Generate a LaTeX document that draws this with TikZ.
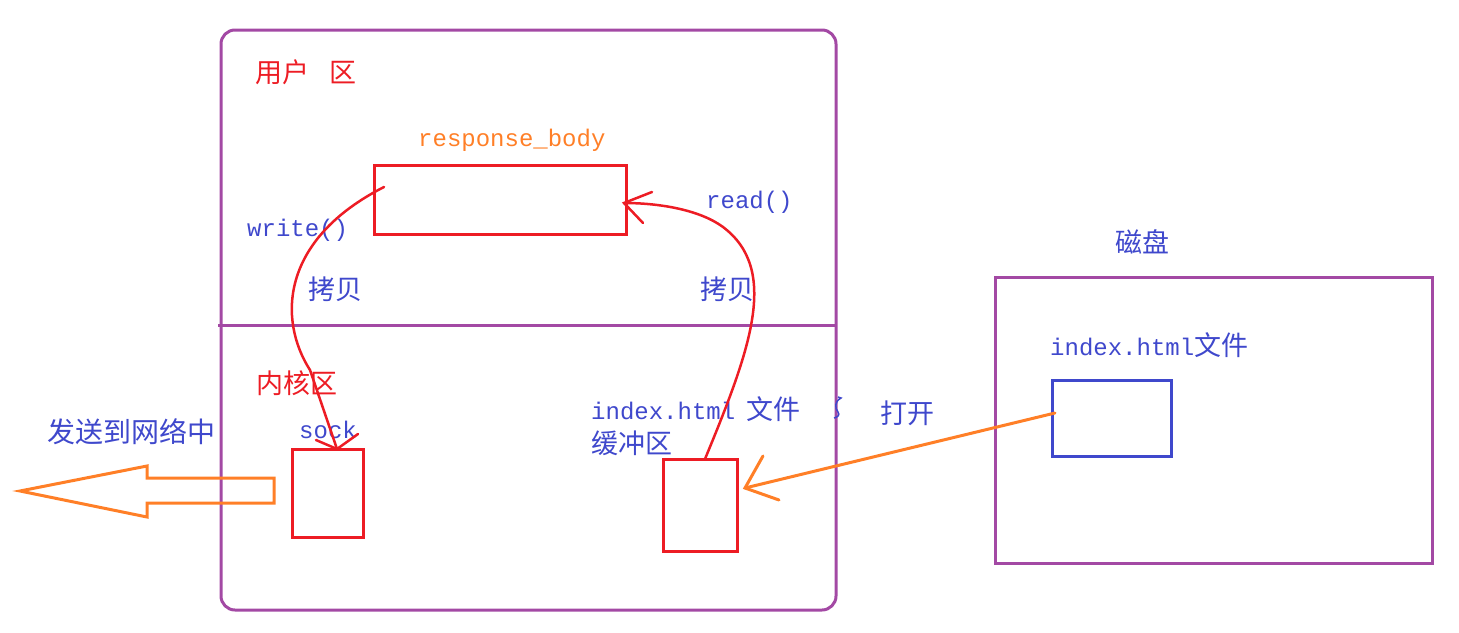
\documentclass[tikz,border=0pt]{standalone}
\usepackage{fontspec}
\setmainfont{Liberation Mono}
\newfontfamily\cjk{Noto Sans CJK SC}
\definecolor{pur}{RGB}{163,73,164}
\definecolor{rd}{RGB}{237,28,36}
\definecolor{org}{RGB}{255,127,39}
\definecolor{blu}{RGB}{63,72,204}
\newcommand{\zhf}{\fontsize{27}{27}\selectfont\cjk}
\begin{document}
\begin{tikzpicture}[x=1pt,y=-1pt,
  box/.style={draw, line width=3pt, inner sep=0pt, outer sep=0pt, anchor=north west},
  mono/.style={font=\fontsize{24}{24}\selectfont, inner sep=0pt, anchor=base west},
  zh/.style={font=\zhf, inner sep=0pt, anchor=base west},
  curve/.style={draw=rd, line width=2.5pt, line cap=round},
  orgline/.style={draw=org, line width=3pt, line cap=round},
]
\useasboundingbox (0,0) rectangle (1459,632);

% main area
\node[box, draw=pur, rounded corners=14pt, minimum width=615pt, minimum height=580pt] (main) at (221,30) {};
\coordinate (divL) at (218,325);
\coordinate (divR) at (836,325);
\draw[pur, line width=3pt] (divL) -- (divR);

% boxes
\node[box, draw=rd, minimum width=252pt, minimum height=69pt] (resp) at (374,165) {};
\node[box, draw=rd, minimum width=71pt, minimum height=88pt] (sock) at (292,449) {};
\node[box, draw=rd, minimum width=74pt, minimum height=92pt] (buf) at (663,459) {};
\node[box, draw=pur, minimum width=437pt, minimum height=286pt] (disk) at (995,277) {};
\node[box, draw=blu, minimum width=119pt, minimum height=76pt] (file) at (1052,380) {};

% texts
\node[zh, text=rd] (userL) at (255,82) {用户\hspace{20pt}区};
\node[mono, text=org] (respL) at (418,146) {response\_body};
\node[mono, text=blu] (writeL) at (247,236) {write()};
\node[mono, text=blu] (readL) at (706,208) {read()};
\node[zh, text=blu] (copyL) at (308,299) {拷贝};
\node[zh, text=blu] (copyR) at (700,299) {拷贝};
\node[zh, text=rd] (kernL) at (256,393) {内核区};
\node[zh, text=blu, font=\fontsize{28}{28}\selectfont\cjk] (sendL) at (47,442) {发送到网络中};
\node[mono, text=blu] (sockL) at (299,438) {sock};
\node[mono, text=blu] (bufL) at (591,419) {index.html\hspace{11pt}{\zhf 文件}};
\node[zh, text=blu] (bufL2) at (591,453) {缓冲区};
\node[zh, text=blu] (openL) at (880,423) {打开};
\node[zh, text=blu] (diskL) at (1115,252) {磁盘};
\node[mono, text=blu] (fileL) at (1050,355) {index.html{\zhf 文件}};

% hollow arrow to network
\coordinate (netTip) at (20,491);
\draw[orgline, line cap=butt, line join=miter] (274,478) -- (147,478) -- (147,466) -- (netTip) -- (147,517) -- (147,503) -- (274,503) -- cycle;

% open arrow from file to buffer
\coordinate (fileP) at (1055,413);
\coordinate (bufP) at (745,488);
\coordinate (bh1) at (763,456);
\coordinate (bh2) at (779,500);
\draw[orgline] (fileP) -- (bufP);
\draw[orgline] (bh1) -- (bufP) -- (bh2);

% read() curve: buffer -> response_body
\coordinate (rStart) at (705,459);
\coordinate (rTip) at (624,203);
\coordinate (rh1) at (652,192);
\coordinate (rh2) at (643,223);
\draw[curve] (rStart) .. controls (750,350) and (780,270) .. (723,227)
   .. controls (700,210) and (660,203) .. (rTip);
\draw[curve] (rh1) -- (rTip) -- (rh2);

% write() curve: response_body -> sock
\coordinate (wStart) at (384,187);
\coordinate (wTip) at (337,449);
\coordinate (wh1) at (316,440);
\coordinate (wh2) at (358,434);
\draw[curve] (wStart) .. controls (280,240) and (278,320) .. (310,370) -- (wTip);
\draw[curve] (wh1) -- (wTip) -- (wh2);

% small stray mark
\draw[blu, line width=1.5pt] (838,397) -- (841,398) .. controls (834,402) and (835,408) .. (838,412) .. controls (840,415) and (838,417) .. (834,418);
\end{tikzpicture}
\end{document}
